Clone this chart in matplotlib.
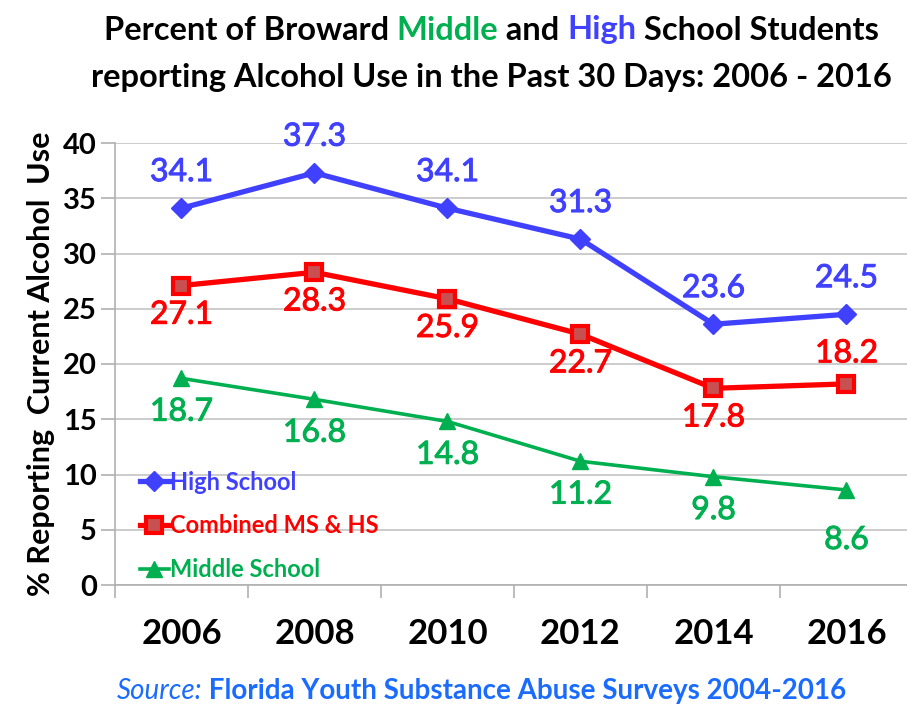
import matplotlib.pyplot as plt
import matplotlib.patheffects as pe
from matplotlib.ticker import MultipleLocator, FixedLocator

years = ['2006', '2008', '2010', '2012', '2014', '2016']
high_school = [34.1, 37.3, 34.1, 31.3, 23.6, 24.5]
combined = [27.1, 28.3, 25.9, 22.7, 17.8, 18.2]
middle_school = [18.7, 16.8, 14.8, 11.2, 9.8, 8.6]

BLUE = '#4040ff'
RED = '#ff0000'
GREEN = '#00b050'
SRC_BLUE = '#1a6bff'

plt.rcParams['font.family'] = ['Lato', 'DejaVu Sans']

fig = plt.figure(figsize=(9.07, 7.12), dpi=100)
ax = fig.add_axes([115 / 907, 127 / 712, 792 / 907, 442 / 712])

x = list(range(len(years)))
ax.plot(x, high_school, color=BLUE, lw=3.8, marker='D', ms=10, label='High School', zorder=3)
ax.plot(x, combined, color=RED, lw=3.8, marker='s', ms=12, mfc='#c85050', mec=RED, mew=3,
        label='Combined MS & HS', zorder=3)
ax.plot(x, middle_school, color=GREEN, lw=2.6, marker='^', ms=12, label='Middle School', zorder=3)


def label_series(values, color, offsets):
    for i, (v, dy) in enumerate(zip(values, offsets)):
        ax.annotate(f'{v:.1f}', (i, v), xytext=(0, dy), textcoords='offset points',
                    ha='center', va='center', color=color, fontsize=23,
                    path_effects=[pe.withStroke(linewidth=0.7, foreground=color)])


label_series(high_school, BLUE, [26] * 6)
label_series(combined, RED, [-21] * 5 + [22])
label_series(middle_school, GREEN, [-24] * 5 + [-36])

ax.set_xlim(-0.5, 5.455)
ax.set_ylim(0, 40)
ax.yaxis.set_major_locator(MultipleLocator(5))
ax.set_xticks(x)
ax.set_xticklabels(years, fontsize=25, fontweight='bold')
ax.xaxis.set_minor_locator(FixedLocator([-0.5, 0.5, 1.5, 2.5, 3.5, 4.5]))
ax.tick_params(axis='x', which='major', length=0, pad=24)
ax.tick_params(axis='x', which='minor', length=9, color='#b0b0b0', width=1.2)
ax.tick_params(axis='y', length=10, color='#b0b0b0', width=1.2, labelsize=21, pad=3)
for lab in ax.get_yticklabels():
    lab.set_fontweight('bold')

ax.grid(axis='y', color='#c8c8c8', lw=1.3, zorder=0)
for s in ['top', 'right']:
    ax.spines[s].set_visible(False)
for s in ['left', 'bottom']:
    ax.spines[s].set_color('#b0b0b0')
    ax.spines[s].set_linewidth(1.2)

ax.set_ylabel('% Reporting  Current Alcohol  Use', fontsize=22, fontweight='bold', labelpad=6)

leg = ax.legend(loc='upper left', bbox_to_anchor=(0.02, 0.28), frameon=False,
                handlelength=1.2, handletextpad=0.05, labelspacing=0.88,
                fontsize=17, labelcolor='linecolor', borderaxespad=0)
for t in leg.get_texts():
    t.set_fontweight('bold')

# title with coloured words
fig.canvas.draw()
renderer = fig.canvas.get_renderer()


def colored_line(parts, y, size):
    texts = [fig.text(0, y, s, color=c, fontsize=size, fontweight='bold', va='center')
             for s, c in parts]
    widths = [t.get_window_extent(renderer).width for t in texts]
    total = sum(widths)
    xpos = (907 - total) / 2 + 38
    for t, w in zip(texts, widths):
        t.set_x(xpos / 907)
        xpos += w


colored_line([('Percent of Broward ', 'black'), ('Middle', GREEN), (' and ', 'black'),
              ('High', BLUE), (' School Students', 'black')], 1 - 30 / 712, 23.5)
colored_line([('reporting Alcohol Use in the Past 30 Days: 2006 - 2016', 'black')],
             1 - 78 / 712, 23.5)

src1 = fig.text(0, 1 - 691 / 712, 'Source:', color=SRC_BLUE, fontsize=20, style='italic',
                va='center')
src2 = fig.text(0, 1 - 691 / 712, ' Florida Youth Substance Abuse Surveys 2004-2016',
                color=SRC_BLUE, fontsize=20, fontweight='bold', va='center')
w1 = src1.get_window_extent(renderer).width
w2 = src2.get_window_extent(renderer).width
x0 = (907 - w1 - w2) / 2 + 28
src1.set_x(x0 / 907)
src2.set_x((x0 + w1) / 907)

fig.savefig('out.png', dpi=100)
